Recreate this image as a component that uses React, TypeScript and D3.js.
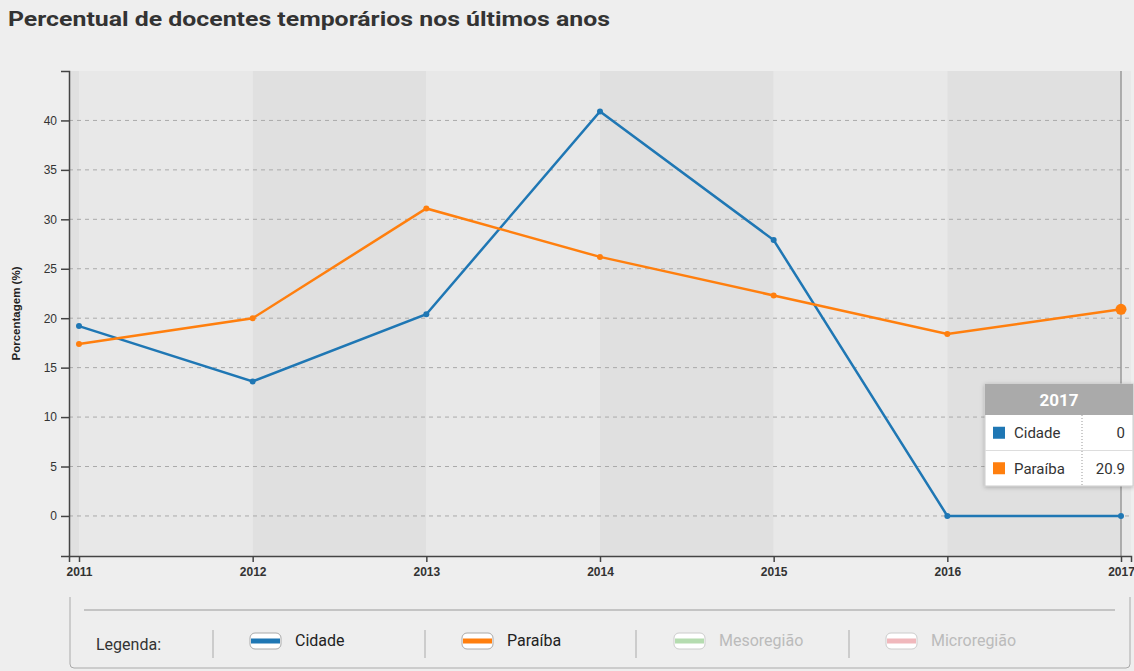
import React, { useEffect, useRef } from 'react';
import * as d3 from 'd3';

const width = 1134;
const height = 671;

const years = [2011, 2012, 2013, 2014, 2015, 2016, 2017];
const cidade = [19.2, 13.6, 20.4, 40.9, 27.9, 0, 0];
const paraiba = [17.4, 20.0, 31.1, 26.2, 22.3, 18.4, 20.9];
const yTicks = [0, 5, 10, 15, 20, 25, 30, 35, 40];
const legendItems = ['Cidade', 'Paraíba', 'Mesoregião', 'Microregião'];
const legendColors = ['#1f77b4', '#ff7f0e', '#b5dcb0', '#f0b8bc'];
const seriesNames = ['Cidade', 'Paraíba'];

const margin = { top: 71, right: 3, bottom: 115, left: 69 };
const fontBase = 'Roboto, "Liberation Sans", Arial, sans-serif';

export default function App() {
  const ref = useRef<SVGSVGElement>(null);

  useEffect(() => {
    const svg = d3.select(ref.current);
    svg.selectAll('*').remove();

    const x = d3.scalePoint<number>()
      .domain(years)
      .range([margin.left, width - margin.right])
      .padding(0.0576);
    const y = d3.scaleLinear()
      .domain([-4.05, 45])
      .range([height - margin.bottom, margin.top]);

    const x0 = margin.left;
    const x1 = width - margin.right;
    const yTop = margin.top;
    const yBot = height - margin.bottom;

    // page background
    svg.append('rect').attr('width', width).attr('height', height).attr('fill', '#eeeeee');

    // title
    svg.append('text')
      .attr('x', 8).attr('y', 26)
      .attr('font-family', fontBase)
      .attr('font-weight', 700)
      .attr('font-size', 21)
      .attr('fill', '#333')
      .attr('textLength', 602)
      .attr('lengthAdjust', 'spacingAndGlyphs')
      .text('Percentual de docentes temporários nos últimos anos');

    // alternating bands between years
    const bandEdges = [x0, ...years.map(d => x(d)!), x1];
    for (let i = 0; i < bandEdges.length - 1; i++) {
      svg.append('rect')
        .attr('x', bandEdges[i])
        .attr('y', yTop)
        .attr('width', bandEdges[i + 1] - bandEdges[i])
        .attr('height', yBot - yTop)
        .attr('fill', i % 2 === 0 ? '#e0e0e0' : '#e8e8e8');
    }

    // dashed grid
    svg.append('g')
      .selectAll('line')
      .data(yTicks)
      .join('line')
      .attr('x1', x0).attr('x2', x1)
      .attr('y1', d => y(d)).attr('y2', d => y(d))
      .attr('stroke', '#aaa')
      .attr('stroke-dasharray', '4,4');

    // hover crosshair at 2017
    svg.append('line')
      .attr('x1', x(2017)!).attr('x2', x(2017)!)
      .attr('y1', yTop).attr('y2', yBot)
      .attr('stroke', '#999').attr('stroke-width', 1.5);

    // axes
    const yAxis = svg.append('g')
      .attr('transform', `translate(${x0},0)`)
      .call(d3.axisLeft(y).tickValues(yTicks).tickSize(8).tickPadding(4));
    const xAxis = svg.append('g')
      .attr('transform', `translate(0,${yBot})`)
      .call(d3.axisBottom(x).tickSize(6).tickPadding(5));
    [yAxis, xAxis].forEach(g => {
      g.select('.domain').attr('stroke', '#444').attr('stroke-width', 1.5);
      g.selectAll('.tick line').attr('stroke', '#444').attr('stroke-width', 1.5);
      g.selectAll('text')
        .attr('font-family', '"Liberation Sans", Arial, sans-serif')
        .attr('font-size', 12)
        .attr('font-weight', 700)
        .attr('fill', '#333');
    });
    yAxis.selectAll('text').attr('font-weight', 400);

    svg.append('text')
      .attr('transform', `translate(20,${(yTop + yBot) / 2}) rotate(-90)`)
      .attr('text-anchor', 'middle')
      .attr('font-family', '"Liberation Sans", Arial, sans-serif')
      .attr('font-size', 11.5)
      .attr('font-weight', 700)
      .attr('fill', '#222')
      .text('Porcentagem (%)');

    // lines
    const series = [cidade, paraiba];
    const line = d3.line<number>()
      .x((_, i) => x(years[i])!)
      .y(d => y(d));
    series.forEach((values, si) => {
      svg.append('path')
        .attr('d', line(values))
        .attr('fill', 'none')
        .attr('stroke', legendColors[si])
        .attr('stroke-width', 2.5);
      svg.append('g')
        .selectAll('circle')
        .data(values)
        .join('circle')
        .attr('cx', (_, i) => x(years[i])!)
        .attr('cy', d => y(d))
        .attr('r', (_, i) => (si === 1 && i === years.length - 1 ? 5.5 : 3))
        .attr('fill', legendColors[si]);
    });

    // tooltip
    const tipX = 985, tipY = 384, tipW = 148, headH = 31, rowH = 35.5;
    const defs = svg.append('defs');
    const f = defs.append('filter').attr('id', 'shadow').attr('x', '-10%').attr('y', '-10%').attr('width', '130%').attr('height', '130%');
    f.append('feDropShadow').attr('dx', 0).attr('dy', 1).attr('stdDeviation', 2).attr('flood-color', '#000').attr('flood-opacity', 0.25);
    const tip = svg.append('g').attr('transform', `translate(${tipX},${tipY})`);
    tip.append('rect').attr('width', tipW).attr('height', headH + rowH * 2)
      .attr('fill', '#fff').attr('stroke', '#ccc').attr('filter', 'url(#shadow)');
    tip.append('rect').attr('width', tipW).attr('height', headH).attr('fill', '#aaaaaa');
    tip.append('text')
      .attr('x', tipW / 2).attr('y', headH / 2 + 6)
      .attr('text-anchor', 'middle')
      .attr('font-family', fontBase).attr('font-weight', 700).attr('font-size', 17)
      .attr('fill', '#fff')
      .text(String(years[years.length - 1]));
    tip.append('line').attr('x1', 0).attr('x2', tipW)
      .attr('y1', headH + rowH).attr('y2', headH + rowH).attr('stroke', '#ddd');
    tip.append('line').attr('x1', 97).attr('x2', 97)
      .attr('y1', headH).attr('y2', headH + rowH * 2)
      .attr('stroke', '#999').attr('stroke-dasharray', '1,2');
    seriesNames.forEach((name, i) => {
      const cy = headH + rowH * i + rowH / 2;
      tip.append('rect').attr('x', 8).attr('y', cy - 6).attr('width', 12).attr('height', 12)
        .attr('fill', legendColors[i]);
      tip.append('text').attr('x', 29).attr('y', cy + 5.5)
        .attr('font-family', fontBase).attr('font-size', 15).attr('fill', '#333')
        .text(name);
      tip.append('text').attr('x', tipW - 8).attr('y', cy + 5.5)
        .attr('text-anchor', 'end')
        .attr('font-family', fontBase).attr('font-size', 15).attr('fill', '#333')
        .text(String(series[i][years.length - 1]));
    });

    // legend
    const lg = svg.append('g');
    lg.append('path')
      .attr('d', `M${70},597 L70,664 Q70,668 74,668 L1126,668 Q1130,668 1130,664 L1130,597`)
      .attr('fill', 'none').attr('stroke', '#aaa');
    lg.append('line').attr('x1', 84).attr('x2', 1115).attr('y1', 610).attr('y2', 610)
      .attr('stroke', '#999').attr('stroke-width', 1.2);
    lg.append('text').attr('x', 96).attr('y', 650)
      .attr('font-family', fontBase).attr('font-size', 16).attr('fill', '#333')
      .text('Legenda:');
    const sepX = [213, 425, 636, 849];
    sepX.forEach(sx => {
      lg.append('line').attr('x1', sx).attr('x2', sx).attr('y1', 630).attr('y2', 658)
        .attr('stroke', '#aaa');
    });
    legendItems.forEach((name, i) => {
      const lx = 250 + i * 212;
      const faded = i > 1;
      lg.append('rect').attr('x', lx).attr('y', 633).attr('width', 31).attr('height', 16).attr('rx', 5)
        .attr('fill', '#fff').attr('stroke', faded ? '#ccc' : '#aaa');
      lg.append('rect').attr('x', lx + 1).attr('y', 638.5).attr('width', 29).attr('height', 5)
        .attr('fill', legendColors[i]);
      lg.append('text').attr('x', lx + 45).attr('y', 646)
        .attr('font-family', fontBase).attr('font-size', 16)
        .attr('fill', faded ? '#bbb' : '#222')
        .text(name);
    });
  }, []);

  return (
    <svg ref={ref} width={width} height={height}
      style={{ position: 'absolute', left: 0, top: 0, display: 'block' }} />
  );
}
